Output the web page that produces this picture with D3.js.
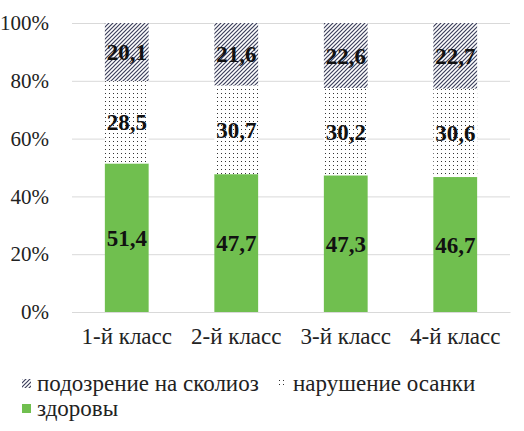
<!DOCTYPE html>
<html>
<head>
<meta charset="utf-8">
<script src="https://cdn.jsdelivr.net/npm/d3@7"></script>
<style>
  body { margin: 0; background: #fff; }
</style>
</head>
<body>
<div id="chart"></div>
<script>
let classes = ["1-й класс", "2-й класс", "3-й класс", "4-й класс"];
let healthy = [51.4, 47.7, 47.3, 46.7];
let posture = [28.5, 30.7, 30.2, 30.6];
let scoliosis = [20.1, 21.6, 22.6, 22.7];
let yTicks = [0, 0.2, 0.4, 0.6, 0.8, 1];
let seriesNames = ["здоровы", "нарушение осанки", "подозрение на сколиоз"];

let width = 524, height = 431;
let plot = {left: 72, right: 510, top: 23, bottom: 312};
let serif = "'Liberation Serif', 'Times New Roman', serif";

let svg = d3.select("#chart")
    .append("svg")
    .attr("width", width)
    .attr("height", height)
    .style("font-family", serif);

// patterns
let defs = svg.append("defs");
let hatch = defs.append("pattern")
    .attr("id", "hatch")
    .attr("patternUnits", "userSpaceOnUse")
    .attr("width", 4)
    .attr("height", 4);
hatch.append("rect").attr("width", 4).attr("height", 4).attr("fill", "#fff");
hatch.append("path")
    .attr("d", "M-1,1 l2,-2 M0,4 l4,-4 M3,5 l2,-2")
    .attr("stroke", "#3c3f5c")
    .attr("stroke-width", 1.2);

let dots = defs.append("pattern")
    .attr("id", "dots")
    .attr("patternUnits", "userSpaceOnUse")
    .attr("width", 4)
    .attr("height", 4);
dots.append("rect").attr("width", 4).attr("height", 4).attr("fill", "#fff");
dots.append("rect")
    .attr("x", 1).attr("y", 1)
    .attr("width", 1).attr("height", 1)
    .attr("fill", "#333");

let fills = ["#70bf4f", "url(#dots)", "url(#hatch)"];

let rows = classes.map((c, i) => ({cls: c, h: healthy[i], p: posture[i], s: scoliosis[i]}));
let keys = ["h", "p", "s"];
let stacked = d3.stack().keys(keys)(rows);

let x = d3.scaleBand()
    .domain(classes)
    .range([plot.left, plot.right])
    .paddingInner(0.6)
    .paddingOuter(0.3);

let y = d3.scaleLinear()
    .domain([0, 1])
    .range([plot.bottom, plot.top]);

// gridlines
svg.append("g")
    .attr("transform", "translate(" + plot.left + ",0)")
    .call(d3.axisLeft(y)
        .tickValues(yTicks)
        .tickSize(-(plot.right - plot.left))
        .tickFormat(""))
    .call(g => g.select(".domain").remove())
    .call(g => g.selectAll("line").attr("stroke", "#d9d9d9").attr("stroke-width", 1));

// y labels
svg.append("g")
    .attr("transform", "translate(" + (plot.left - 20) + ",0)")
    .call(d3.axisLeft(y)
        .tickValues(yTicks)
        .tickSize(0)
        .tickFormat(d3.format(".0%")))
    .attr("font-family", serif)
    .call(g => g.select(".domain").remove())
    .call(g => g.selectAll("text")
        .attr("font-size", 21)
        .attr("fill", "#222"));

// bars
let layers = svg.append("g").selectAll("g")
    .data(stacked)
    .enter()
    .append("g")
    .attr("fill", (d, i) => fills[i]);

layers.selectAll("rect")
    .data(d => d)
    .enter()
    .append("rect")
    .attr("x", d => x(d.data.cls))
    .attr("width", x.bandwidth())
    .attr("y", d => y(Math.min(d[1], 100) / 100))
    .attr("height", d => y(d[0] / 100) - y(Math.min(d[1], 100) / 100));

// value labels
svg.append("g").selectAll("g")
    .data(stacked)
    .enter()
    .append("g")
    .selectAll("text")
    .data((d, i) => d.map(v => ({v: v, key: keys[i]})))
    .enter()
    .append("text")
    .attr("x", d => x(d.v.data.cls) + x.bandwidth() / 2)
    .attr("y", d => y((d.v[0] + Math.min(d.v[1], 100)) / 200))
    .attr("dy", "0.35em")
    .attr("text-anchor", "middle")
    .attr("font-size", 23)
    .attr("font-weight", "bold")
    .attr("font-family", serif)
    .attr("fill", "#111")
    .text(d => d.v.data[d.key].toFixed(1).replace(".", ","));

// x labels
svg.append("g")
    .attr("transform", "translate(0," + plot.bottom + ")")
    .call(d3.axisBottom(x).tickSize(0).tickPadding(16))
    .attr("font-family", serif)
    .call(g => g.select(".domain").attr("stroke", "#d9d9d9"))
    .call(g => g.selectAll("text")
        .attr("font-size", 23)
        .attr("fill", "#222"));

// legend
let legendItems = [
    {name: seriesNames[2], fill: fills[2], x: 22, y: 383},
    {name: seriesNames[1], fill: fills[1], x: 278, y: 383},
    {name: seriesNames[0], fill: fills[0], x: 22, y: 408}
];

let legend = svg.append("g").selectAll("g")
    .data(legendItems)
    .enter()
    .append("g")
    .attr("transform", d => "translate(" + d.x + "," + d.y + ")");

legend.append("rect")
    .attr("x", 0)
    .attr("y", -4)
    .attr("width", 9)
    .attr("height", 9)
    .attr("fill", d => d.fill);

legend.append("text")
    .attr("x", 15)
    .attr("dy", "0.35em")
    .attr("font-size", 23)
    .attr("font-family", serif)
    .attr("fill", "#222")
    .text(d => d.name);
</script>
</body>
</html>
